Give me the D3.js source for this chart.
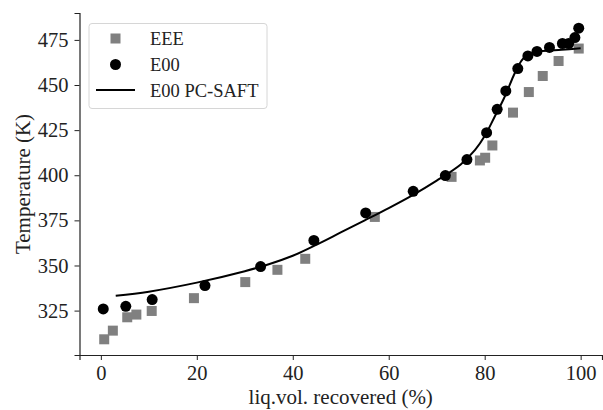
<!DOCTYPE html>
<html>
<head>
<meta charset="utf-8">
<script src="https://cdn.jsdelivr.net/npm/d3@7"></script>
<style>
  body { margin: 0; background: #fff; }
  svg text { font-family: "Liberation Serif", "DejaVu Serif", serif; fill: #222; }
  .axis path, .axis line { stroke: #222; }
</style>
</head>
<body>
<div id="chart"></div>
<script>
// EEE measured points
var eeeX = [0.7, 2.5, 5.5, 7.4, 10.6, 19.4, 30.1, 36.8, 42.6, 57.1, 73.1, 79.0, 80.1, 81.6, 85.9, 89.2, 92.1, 95.4, 99.6];
var eeeY = [309.1, 313.9, 321.3, 322.8, 324.8, 331.9, 340.8, 347.6, 353.7, 376.9, 399.1, 408.2, 409.7, 416.5, 434.7, 446.1, 455.0, 463.3, 470.2];

// E00 measured points
var e00X = [0.5, 5.2, 10.7, 21.7, 33.3, 44.4, 55.2, 65.1, 71.8, 76.3, 80.4, 82.6, 84.4, 86.9, 89.0, 90.9, 93.5, 96.2, 97.5, 98.8, 99.6];
var e00Y = [325.9, 327.4, 331.1, 338.9, 349.4, 363.9, 379.1, 391.1, 399.8, 408.7, 423.6, 436.5, 446.7, 459.1, 466.1, 468.6, 470.8, 473.0, 473.0, 476.3, 481.5];

// E00 PC-SAFT model curve
var saftX = [3.1, 10, 20, 30, 35, 40, 45, 50, 55, 60, 65, 70, 75, 78, 80, 82, 84, 86, 87, 88, 89.5, 92, 96, 100];
var saftY = [333.2, 335.5, 340.5, 346.8, 350.7, 355.4, 361.6, 368.3, 375, 381.8, 389, 397, 406, 414, 421.7, 432, 442.5, 455, 460.5, 464.5, 467, 468.8, 469.5, 470.4];

var xTicks = [0, 20, 40, 60, 80, 100];
var yTicks = [325, 350, 375, 400, 425, 450, 475];

var width = 603;
var height = 410;

var svg = d3.select("#chart")
    .append("svg")
    .attr("width", width)
    .attr("height", height);

var x = d3.scaleLinear().domain([-4.45, 104.45]).range([79.5, 602]);
var y = d3.scaleLinear().domain([300.4, 489.9]).range([355, 13]);

// axes
svg.append("g")
    .attr("class", "axis")
    .attr("transform", "translate(0," + y.range()[0] + ")")
    .call(d3.axisBottom(x).tickValues(xTicks).tickSizeOuter(0).tickSize(5).tickPadding(5))
    .call(g => g.selectAll("text").style("font-size", "20.5px").attr("dy", "0.72em"));

svg.append("g")
    .attr("class", "axis")
    .attr("transform", "translate(" + x.range()[0] + ",0)")
    .call(d3.axisLeft(y).tickValues(yTicks).tickSizeOuter(0).tickSize(5).tickPadding(6))
    .call(g => g.selectAll("text").style("font-size", "20.5px"));

svg.selectAll(".axis path").attr("stroke-width", 1.2);

// axis titles
svg.append("text")
    .attr("x", (x.range()[0] + x.range()[1]) / 2)
    .attr("y", 404)
    .attr("text-anchor", "middle")
    .style("font-size", "21px")
    .text("liq.vol. recovered (%)");

svg.append("text")
    .attr("transform", "translate(30," + (y.range()[0] + y.range()[1]) / 2 + ") rotate(-90)")
    .attr("text-anchor", "middle")
    .style("font-size", "21px")
    .text("Temperature (K)");

// EEE squares
var sq = 10;
svg.append("g").selectAll("rect")
    .data(eeeX)
    .enter()
    .append("rect")
    .attr("x", (d, i) => x(d) - sq / 2)
    .attr("y", (d, i) => y(eeeY[i]) - sq / 2)
    .attr("width", sq)
    .attr("height", sq)
    .attr("fill", "#808080");

// E00 circles
svg.append("g").selectAll("circle")
    .data(e00X)
    .enter()
    .append("circle")
    .attr("cx", d => x(d))
    .attr("cy", (d, i) => y(e00Y[i]))
    .attr("r", 5.5)
    .attr("fill", "#000");

// PC-SAFT line
var line = d3.line()
    .x(d => x(d))
    .y((d, i) => y(saftY[i]))
    .curve(d3.curveCatmullRom);

svg.append("path")
    .attr("d", line(saftX))
    .attr("fill", "none")
    .attr("stroke", "#000")
    .attr("stroke-width", 2);

// legend
var lg = svg.append("g");
lg.append("rect")
    .attr("x", 89)
    .attr("y", 23.5)
    .attr("width", 178)
    .attr("height", 85)
    .attr("rx", 3)
    .attr("fill", "#fff")
    .attr("fill-opacity", 0.8)
    .attr("stroke", "#d6d6d6");

lg.append("rect")
    .attr("x", 115.5 - sq / 2).attr("y", 38.5 - sq / 2)
    .attr("width", sq).attr("height", sq)
    .attr("fill", "#808080");
lg.append("circle")
    .attr("cx", 115.5).attr("cy", 64.5).attr("r", 5.5)
    .attr("fill", "#000");
lg.append("line")
    .attr("x1", 96).attr("x2", 135)
    .attr("y1", 90).attr("y2", 90)
    .attr("stroke", "#000").attr("stroke-width", 2);

var labels = ["EEE", "E00", "E00 PC-SAFT"];
lg.selectAll("text.lab")
    .data(labels)
    .enter()
    .append("text")
    .attr("class", "lab")
    .attr("x", 150)
    .attr("y", (d, i) => 38.5 + i * 26)
    .attr("dy", "0.35em")
    .style("font-size", "18.5px")
    .text(d => d);
</script>
</body>
</html>
